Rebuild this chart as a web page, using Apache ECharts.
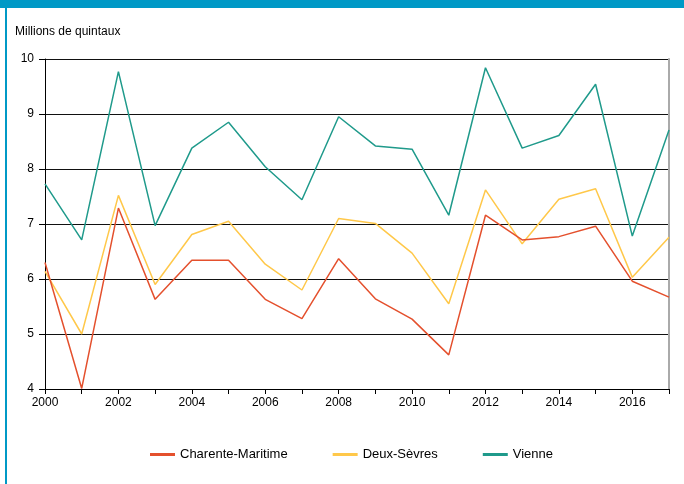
<!DOCTYPE html>
<html>
<head>
<meta charset="utf-8">
<script src="https://cdn.jsdelivr.net/npm/echarts@6/dist/echarts.min.js"></script>
<style>
  html, body { margin: 0; padding: 0; background: #fff; }
  #chart { width: 684px; height: 484px; }
</style>
</head>
<body>
<div id="chart"></div>
<script>
// années
const years = ['2000', '2001', '2002', '2003', '2004', '2005', '2006', '2007', '2008',
  '2009', '2010', '2011', '2012', '2013', '2014', '2015', '2016', '2017']

// millions de quintaux
const charente = [6.30, 4.01, 7.29, 5.63, 6.34, 6.34, 5.63, 5.28, 6.37,
  5.64, 5.27, 4.62, 7.16, 6.71, 6.77, 6.96, 5.96, 5.67]
const deuxSevres = [6.14, 5.00, 7.52, 5.90, 6.81, 7.05, 6.27, 5.80, 7.10,
  7.01, 6.47, 5.55, 7.62, 6.64, 7.45, 7.64, 6.03, 6.76]
const vienne = [7.73, 6.71, 9.77, 6.97, 8.38, 8.85, 8.04, 7.44, 8.95,
  8.42, 8.36, 7.16, 9.84, 8.38, 8.61, 9.54, 6.78, 8.71]

const seriesNames = ['Charente-Maritime', 'Deux-Sèvres', 'Vienne']
const colors = ['#E4502D', '#FFC84A', '#1F9A8B']

const chart = echarts.init(document.getElementById('chart'))

const font = 'Liberation Sans, Arial, sans-serif'

const option = {
  backgroundColor: '#fff',
  animation: false,
  color: colors,
  textStyle: { fontFamily: font },
  title: {
    text: 'Millions de quintaux',
    left: 10,
    top: 21,
    textStyle: { fontSize: 12, fontWeight: 'normal', color: '#000', fontFamily: font }
  },
  graphic: [
    // bandeau bleu en haut
    { type: 'rect', left: 0, top: 0, shape: { width: 684, height: 8 }, style: { fill: '#0099C6' } },
    // bordure gauche
    { type: 'rect', left: 5, top: 0, shape: { width: 2, height: 484 }, style: { fill: '#0099C6' } }
  ],
  legend: {
    top: 443,
    left: 145,
    icon: 'rect',
    itemWidth: 25,
    itemHeight: 3,
    itemGap: 45,
    textStyle: { fontSize: 13, color: '#000', fontFamily: font },
    data: seriesNames
  },
  grid: {
    left: 45,
    right: 15,
    top: 59,
    bottom: 95
  },
  xAxis: {
    type: 'category',
    boundaryGap: false,
    data: years,
    axisLine: { lineStyle: { color: '#000', width: 1 } },
    axisTick: { show: true, interval: 0, length: 5, lineStyle: { color: '#000' } },
    axisLabel: { interval: 1, color: '#000', fontSize: 12, margin: 8, fontFamily: font },
    splitLine: { show: false }
  },
  yAxis: [
    {
      type: 'value',
      min: 4,
      max: 10,
      interval: 1,
      axisLine: { show: true, lineStyle: { color: '#000', width: 1 } },
      axisTick: { show: true, length: 6, lineStyle: { color: '#000' } },
      axisLabel: { color: '#000', fontSize: 12, margin: 11, fontFamily: font },
      splitLine: { show: true, lineStyle: { color: '#111', width: 1 } }
    },
    {
      // bord droit de la zone de tracé
      type: 'value',
      position: 'right',
      min: 4,
      max: 10,
      interval: 1,
      axisLine: { show: true, lineStyle: { color: '#aaa', width: 2 } },
      axisTick: { show: false },
      axisLabel: { show: false },
      splitLine: { show: false }
    }
  ],
  series: [
    {
      name: seriesNames[0],
      type: 'line',
      data: charente,
      symbol: 'none',
      lineStyle: { width: 1.5, color: colors[0] },
      z: 3
    },
    {
      name: seriesNames[1],
      type: 'line',
      data: deuxSevres,
      symbol: 'none',
      lineStyle: { width: 1.5, color: colors[1] },
      z: 2
    },
    {
      name: seriesNames[2],
      type: 'line',
      data: vienne,
      symbol: 'none',
      lineStyle: { width: 1.5, color: colors[2] },
      z: 2
    }
  ]
}

chart.setOption(option)
</script>
</body>
</html>
